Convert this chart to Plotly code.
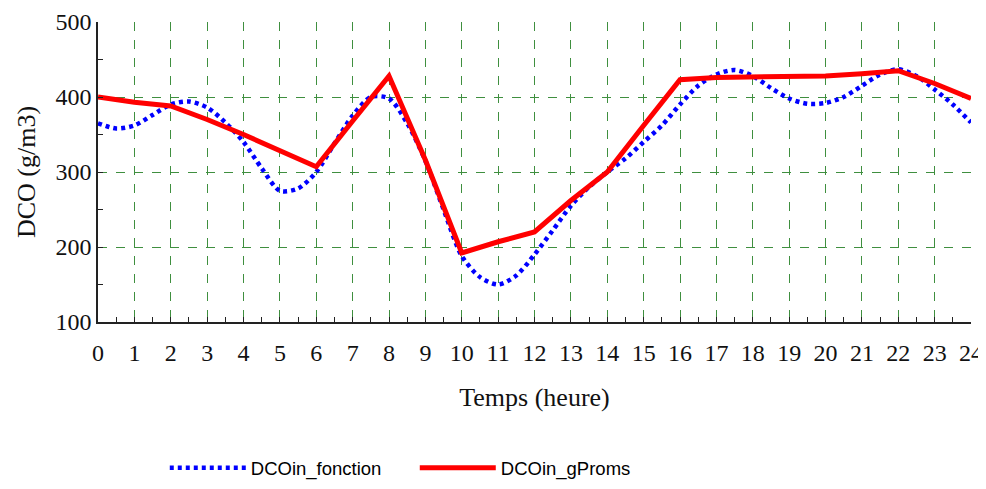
import plotly.graph_objects as go

# Temps (heure)
heures_fonction = [0, 0.5, 1, 1.5, 2, 2.5, 3, 3.5, 4, 4.5, 5, 5.5, 6, 6.5, 7, 7.5, 8, 8.5,
                   9, 9.5, 10, 10.5, 11, 11.5, 12, 12.5, 13, 13.5, 14, 14.5, 15, 15.5, 16,
                   16.5, 17, 17.5, 18, 18.5, 19, 19.5, 20, 20.5, 21, 21.5, 22, 22.5, 23,
                   23.5, 24]
dco_fonction = [365, 358, 362, 376, 390, 394, 386, 366, 340, 305, 275, 278, 300, 338, 375,
                400, 398, 365, 315, 250, 188, 160, 150, 162, 190, 222, 255, 280, 300, 318,
                340, 362, 390, 415, 430, 436, 428, 412, 398, 391, 392, 400, 415, 430, 437,
                428, 410, 390, 366]

heures_gproms = list(range(25))
dco_gproms = [400, 393, 388, 370, 350, 328, 307, 368, 428, 316, 192, 207, 220, 262, 300,
              362, 423, 426, 427, 427, 428, 431, 435, 418, 398]

serif = "Liberation Serif"
grid_col = "#3f8f3f"

fig = go.Figure()

fig.add_trace(go.Scatter(
    x=heures_fonction, y=dco_fonction,
    mode="lines", name="DCOin_fonction",
    line=dict(color="#0000ff", width=4.5, dash="4px,4px", shape="spline", smoothing=0.8),
))

fig.add_trace(go.Scatter(
    x=heures_gproms, y=dco_gproms,
    mode="lines", name="DCOin_gProms",
    line=dict(color="#ff0000", width=5),
))

fig.update_xaxes(
    range=[0, 24], dtick=1, tick0=0, automargin=False,
    showline=True, linecolor="#222", linewidth=1.5,
    ticks="inside", ticklen=5, tickcolor="#222", ticklabelstandoff=8,
    minor=dict(dtick=0.5, ticks="inside", ticklen=5, tickcolor="#222", showgrid=False),
    showgrid=True, gridcolor=grid_col, griddash="dash", gridwidth=1,
    zeroline=False,
    tickfont=dict(family=serif, size=24, color="#111"),
    title=dict(text="Temps (heure)", font=dict(family=serif, size=26, color="#111"),
               standoff=23),
)

fig.update_yaxes(
    range=[100, 500], dtick=100, automargin=False,
    showline=True, linecolor="#222", linewidth=1.5,
    ticks="inside", ticklen=5, tickcolor="#222",
    minor=dict(dtick=50, ticks="inside", ticklen=5, tickcolor="#222", showgrid=False),
    showgrid=True, gridcolor=grid_col, griddash="dash", gridwidth=1,
    zeroline=False,
    tickfont=dict(family=serif, size=24, color="#111"),
    title=dict(text="DCO (g/m3)", font=dict(family=serif, size=26, color="#111"),
               standoff=12),
)

fig.update_layout(
    width=986, height=489,
    margin=dict(l=90, r=23, t=14, b=175),
    plot_bgcolor="white", paper_bgcolor="white",
    showlegend=True,
    legend=dict(
        orientation="h", xref="container", yref="container",
        x=0.159, y=0.059, xanchor="left", yanchor="middle",
        font=dict(family="Liberation Sans", size=18.5, color="#000"),
        itemwidth=76, entrywidth=159,
    ),
)

fig.write_html("out.html")
